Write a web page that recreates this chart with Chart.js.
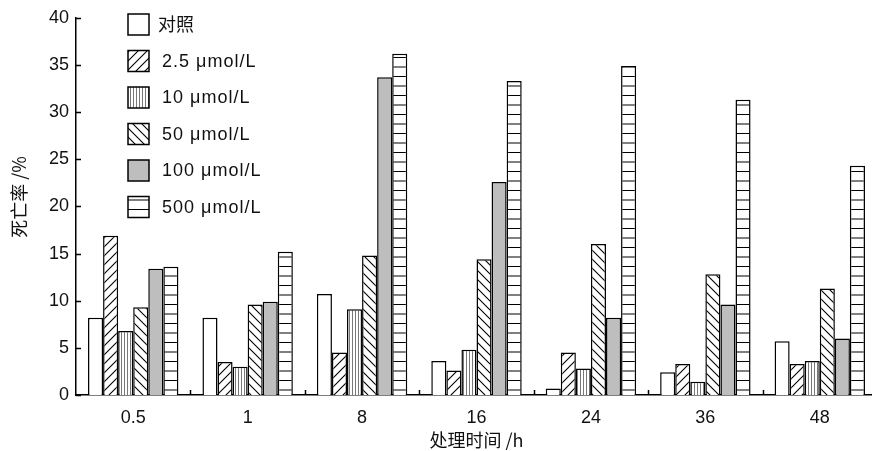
<!DOCTYPE html>
<html>
<head>
<meta charset="utf-8">
<script src="https://cdn.jsdelivr.net/npm/chart.js@4/dist/chart.umd.min.js"></script>
<style>
  html, body { margin: 0; padding: 0; background: #fff; overflow: hidden; }
  #wrap { width: 877px; height: 451px; position: relative; }
</style>
</head>
<body>
<div id="wrap"><canvas id="c" width="877" height="451"></canvas></div>
<script>
// Treatment times (h)
const categories = ['0.5', '1', '8', '16', '24', '36', '48'];
const seriesNames = ['对照', '2.5 μmol/L', '10 μmol/L', '50 μmol/L', '100 μmol/L', '500 μmol/L'];

// Mortality (%) per treatment
const control  = [8.2, 8.2, 10.7, 3.6, 0.7, 2.4, 5.7];
const dose2_5  = [16.9, 3.5, 4.5, 2.6, 4.5, 3.3, 3.3];
const dose10   = [6.8, 3.0, 9.1, 4.8, 2.8, 1.4, 3.6];
const dose50   = [9.3, 9.6, 14.8, 14.4, 16.0, 12.8, 11.3];
const dose100  = [13.4, 9.9, 33.7, 22.6, 8.2, 9.6, 6.0];
const dose500  = [13.6, 15.2, 36.2, 33.3, 34.9, 31.3, 24.3];

const yTicks = [0, 5, 10, 15, 20, 25, 30, 35, 40];

// --- fill patterns ---
function makeTile(w, h, draw) {
  const t = document.createElement('canvas');
  t.width = w; t.height = h;
  const g = t.getContext('2d');
  g.fillStyle = '#fff';
  g.fillRect(0, 0, w, h);
  g.strokeStyle = '#000';
  g.lineWidth = 1.1;
  draw(g, w, h);
  return g.createPattern(t, 'repeat');
}
const patForward = makeTile(9, 9, (g, w, h) => {
  g.beginPath();
  g.moveTo(-1, h + 1); g.lineTo(w + 1, -1);
  g.moveTo(-2, 2); g.lineTo(2, -2);
  g.moveTo(w - 2, h + 2); g.lineTo(w + 2, h - 2);
  g.stroke();
});
const patBack = makeTile(9, 9, (g, w, h) => {
  g.beginPath();
  g.moveTo(-1, -1); g.lineTo(w + 1, h + 1);
  g.moveTo(w - 2, -2); g.lineTo(w + 2, 2);
  g.moveTo(-2, h - 2); g.lineTo(2, h + 2);
  g.stroke();
});
const patVert = makeTile(3, 3, (g, w, h) => {
  g.strokeStyle = '#555';
  g.lineWidth = 0.8;
  g.beginPath();
  g.moveTo(1.5, 0); g.lineTo(1.5, h);
  g.stroke();
});
const patHoriz = makeTile(19, 19, (g, w, h) => {
  g.beginPath();
  g.moveTo(0, 0.5); g.lineTo(w, 0.5);
  g.moveTo(0, 10); g.lineTo(w, 10);
  g.stroke();
});

const fills = ['#ffffff', patForward, patVert, patBack, '#bebebe', patHoriz];
const values = [control, dose2_5, dose10, dose50, dose100, dose500];

const datasets = values.map((v, i) => ({
  label: seriesNames[i],
  data: v,
  backgroundColor: fills[i],
  borderColor: '#000',
  borderWidth: 1.5,
  borderSkipped: 'bottom',
  barPercentage: 1.0,
  categoryPercentage: 0.79
}));

// Legend drawn in the upper-left of the plot
const legendBoxes = {
  id: 'legendBoxes',
  afterDraw(chart) {
    const c = chart.ctx;
    c.save();
    chart.data.datasets.forEach((ds, i) => {
      const cy = 24.5 + i * 36.5;
      const bx = 128, bw = 21, bh = 21;
      c.fillStyle = ds.backgroundColor;
      c.fillRect(bx, cy - bh / 2, bw, bh);
      c.strokeStyle = '#000';
      c.lineWidth = 1.5;
      c.strokeRect(bx, cy - bh / 2, bw, bh);
      c.fillStyle = '#111';
      c.textBaseline = 'middle';
      c.textAlign = 'left';
      if (/^[\u4e00-\u9fff]/.test(ds.label)) {
        c.font = '18px "Noto Sans CJK SC"';
        c.letterSpacing = '0px';
        c.fillText(ds.label, 158, cy);
      } else {
        c.font = '18px "Liberation Sans", Arial, sans-serif';
        c.letterSpacing = '1px';
        c.fillText(ds.label, 162, cy + 1);
      }
    });
    c.restore();
  }
};

// Inward tick marks on both axes, and the vertical axis title
const innerTicks = {
  id: 'innerTicks',
  afterDraw(chart) {
    const c = chart.ctx;
    const a = chart.chartArea;
    const y = chart.scales.y;
    c.save();
    c.strokeStyle = '#000';
    c.lineWidth = 1.5;
    c.beginPath();
    yTicks.forEach(v => {
      const py = Math.round(y.getPixelForValue(v)) + 0.5;
      c.moveTo(a.left, py); c.lineTo(a.left + 5, py);
    });
    const n = categories.length;
    for (let i = 1; i < n; i++) {
      const px = Math.round(a.left + i * (a.right - a.left) / n) + 0.5;
      c.moveTo(px, a.bottom); c.lineTo(px, a.bottom - 5);
    }
    c.stroke();

    c.translate(19, 197);
    c.rotate(-Math.PI / 2);
    c.font = '18px "Noto Sans CJK SC"';
    c.fillStyle = '#111';
    c.textAlign = 'center';
    c.textBaseline = 'middle';
    c.fillText('死亡率 /%', 0, 0);
    c.restore();
  }
};

Chart.defaults.font.family = '"Liberation Sans", Arial, sans-serif';
Chart.defaults.color = '#111';

new Chart(document.getElementById('c'), {
  type: 'bar',
  data: { labels: categories, datasets },
  options: {
    responsive: false,
    animation: false,
    layout: { padding: { top: 14, right: 0, left: 0, bottom: 0 } },
    plugins: { legend: { display: false }, tooltip: { enabled: false } },
    scales: {
      x: {
        grid: { display: false, drawTicks: false },
        border: { display: true, color: '#000', width: 1.5 },
        ticks: { font: { size: 18 }, padding: 12, color: '#111' },
        title: {
          display: true, text: '处理时间 /h', color: '#111',
          font: { family: '"Noto Sans CJK SC"', size: 18 },
          padding: { top: 0, bottom: 0 }
        },
        afterFit(s) { s.height = 56; }
      },
      y: {
        min: 0, max: 40,
        grid: { display: false, drawTicks: false },
        border: { display: true, color: '#000', width: 1.5 },
        ticks: { stepSize: 5, font: { size: 18 }, padding: 7, color: '#111' },
        title: { display: false },
        afterFit(s) { s.width = 76; }
      }
    }
  },
  plugins: [legendBoxes, innerTicks]
});
</script>
</body>
</html>
